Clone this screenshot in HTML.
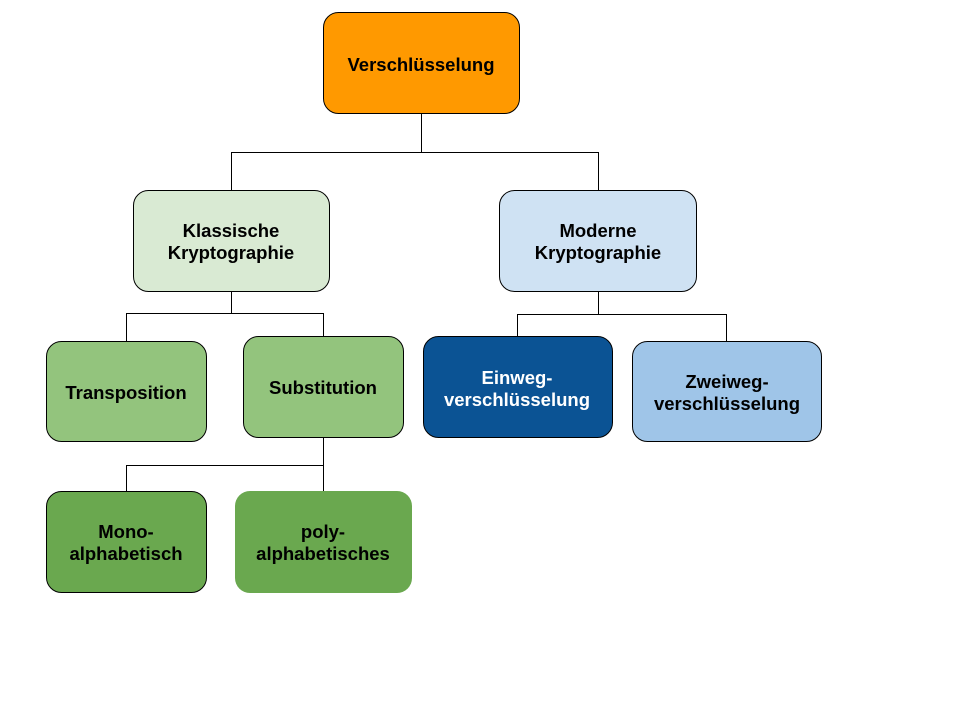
<!DOCTYPE html>
<html><head><meta charset="utf-8"><style>html,body{margin:0;padding:0;background:#fff}svg{display:block}text{font-family:"Liberation Sans",Arial,sans-serif;font-weight:bold;font-size:18.5px;text-anchor:middle}</style></head>
<body>
<svg width="960" height="720" xmlns="http://www.w3.org/2000/svg">
<g stroke="#000" stroke-width="1" fill="none">
<path d="M421.5 114V152.5M231.5 152.5H598.5M231.5 152V190M598.5 152V190"/>
<path d="M231.5 292V313.5M126.5 313.5H323.5M126.5 313V341M323.5 313V336"/>
<path d="M598.5 292V314.5M517.5 314.5H726.5M517.5 314V337M726.5 314V341"/>
<path d="M323.5 438V491M126.5 465.5H323.5M126.5 465V491"/>
</g>
<g stroke="#000" stroke-width="1">
<rect x="323.5" y="12.5" width="196" height="101" rx="15" fill="#ff9900"/>
<rect x="133.5" y="190.5" width="196" height="101" rx="15" fill="#d9ead3"/>
<rect x="499.5" y="190.5" width="197" height="101" rx="15" fill="#cfe2f3"/>
<rect x="46.5" y="341.5" width="160" height="100" rx="15" fill="#93c47d"/>
<rect x="243.5" y="336.5" width="160" height="101" rx="15" fill="#93c47d"/>
<rect x="423.5" y="336.5" width="189" height="101" rx="15" fill="#0b5394"/>
<rect x="632.5" y="341.5" width="189" height="100" rx="15" fill="#9fc5e8"/>
<rect x="46.5" y="491.5" width="160" height="101" rx="15" fill="#6aa84f"/>
</g>
<rect x="235" y="491" width="177" height="102" rx="15" fill="#6aa84f"/>
<text x="421" y="71">Verschlüsselung</text>
<text x="231" y="237">Klassische</text><text x="231" y="259">Kryptographie</text>
<text x="598" y="237">Moderne</text><text x="598" y="259">Kryptographie</text>
<text x="126" y="399">Transposition</text>
<text x="323" y="394">Substitution</text>
<text x="517" y="384" fill="#fff">Einweg-</text><text x="517" y="406" fill="#fff">verschlüsselung</text>
<text x="727" y="388">Zweiweg-</text><text x="727" y="410">verschlüsselung</text>
<text x="126" y="538">Mono-</text><text x="126" y="560">alphabetisch</text>
<text x="323" y="538">poly-</text><text x="323" y="560">alphabetisches</text>
</svg>
</body></html>
